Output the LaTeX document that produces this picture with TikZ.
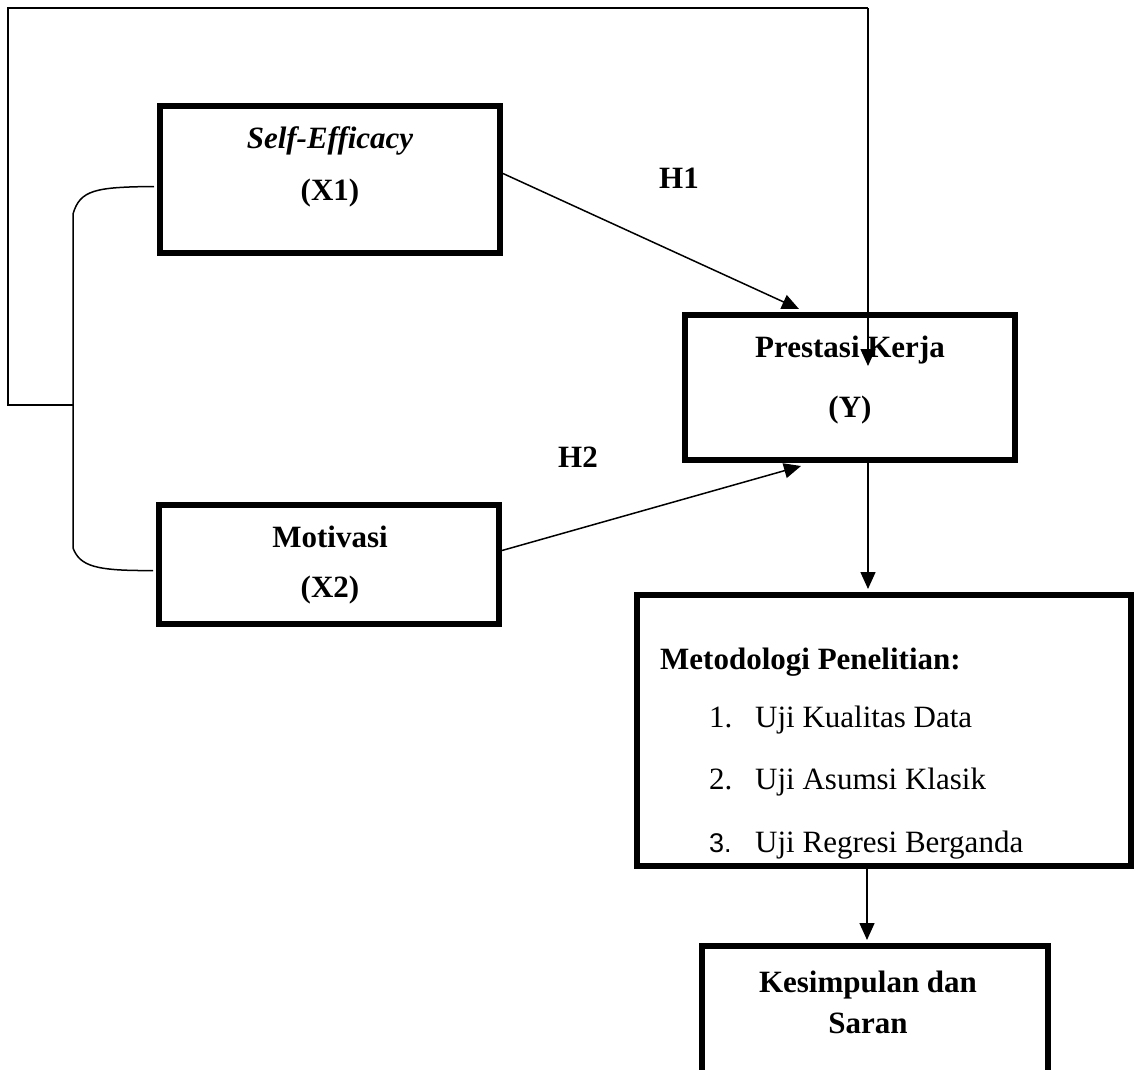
\documentclass[tikz,border=0pt]{standalone}
\usepackage{fontspec}
\setmainfont{Liberation Serif}
\newfontfamily\numfont{Liberation Sans}
\usetikzlibrary{arrows.meta,calc}
\begin{document}
\begin{tikzpicture}[x=1pt,y=-1pt,
  boxstyle/.style={draw,line width=6pt,rectangle,inner sep=0pt},
  conn/.style={line width=1.5pt},
  arr/.style={conn,-{Triangle[length=17pt,width=15pt]}},
  txt/.style={font=\fontsize{31}{36}\selectfont\bfseries,inner sep=0pt},
  plain/.style={font=\fontsize{31}{36}\selectfont,inner sep=0pt,anchor=base west}]
\useasboundingbox (0,0) rectangle (1135,1069);

% variable boxes
\node[boxstyle,minimum width=340pt,minimum height=147pt] (se) at (330,179.5) {};
\node[boxstyle,minimum width=340pt,minimum height=119pt] (mo) at (329,564.5) {};
\node[boxstyle,minimum width=330pt,minimum height=145pt] (pr) at (850,387.5) {};
\node[boxstyle,minimum width=494pt,minimum height=271pt] (me) at (884,730.5) {};
\node[boxstyle,minimum width=346pt,minimum height=160pt] (ks) at (875,1026) {};

% box texts
\node[txt] (seA) at (330,141) {\itshape Self-Efficacy};
\node[txt] (seB) at (330,193) {(X1)};
\node[txt] (moA) at (330,537) {Motivasi};
\node[txt] (moB) at (330,590) {(X2)};
\node[txt] (prA) at (850,350) {Prestasi Kerja};
\node[txt] (prB) at (850,410) {(Y)};
\node[txt,anchor=base west] (meT) at (660,669) {Metodologi Penelitian:};
\node[plain] (n1) at (709,727) {1.};
\node[plain] (i1) at (755,727) {Uji Kualitas Data};
\node[plain] (n2) at (709,789) {2.};
\node[plain] (i2) at (755,789) {Uji Asumsi Klasik};
\node[plain,font=\fontsize{27}{32}\selectfont\numfont] (n3) at (709,852) {3.};
\node[plain] (i3) at (755,852) {Uji Regresi Berganda};
\node[txt] (ksA) at (868,985) {Kesimpulan dan};
\node[txt] (ksB) at (868,1023) {Saran};

% hypothesis labels
\node[txt] (h1) at (679,178) {H1};
\node[txt] (h2) at (578,457) {H2};

% hypothesis arrows
\draw[arr] ([yshift=6pt]se.east) -- ([xshift=-51pt,yshift=3pt]pr.north);
\draw[arr] ([yshift=14pt]mo.east) -- ([xshift=-49pt,yshift=-3pt]pr.south);

% bracket joining the two independent variables
\coordinate (jn) at (73,405);
\coordinate (fbL) at (8,405);
\coordinate (fbTL) at (8,8);
\coordinate (fbTR) at (868,8);
\coordinate (fbEnd) at (868,366);
\draw[conn] ([xshift=-3pt,yshift=-7pt]se.west) .. controls (95,187) and (80,190) .. (73,214)
  -- (73,548) .. controls (80,566) and (95,571) .. ([xshift=-3pt,yshift=-6pt]mo.west);
\draw[conn] (jn) -- (fbL) -- (fbTL) -- (fbTR);
\draw[arr] (fbTR) -- (fbEnd);

% flow to the method and conclusion
\draw[arr] ([xshift=18pt]pr.south) -- ([xshift=-16pt,yshift=3pt]me.north);
\draw[arr] ([xshift=-17pt]me.south) -- ([xshift=-8pt,yshift=3pt]ks.north);
\end{tikzpicture}
\end{document}
